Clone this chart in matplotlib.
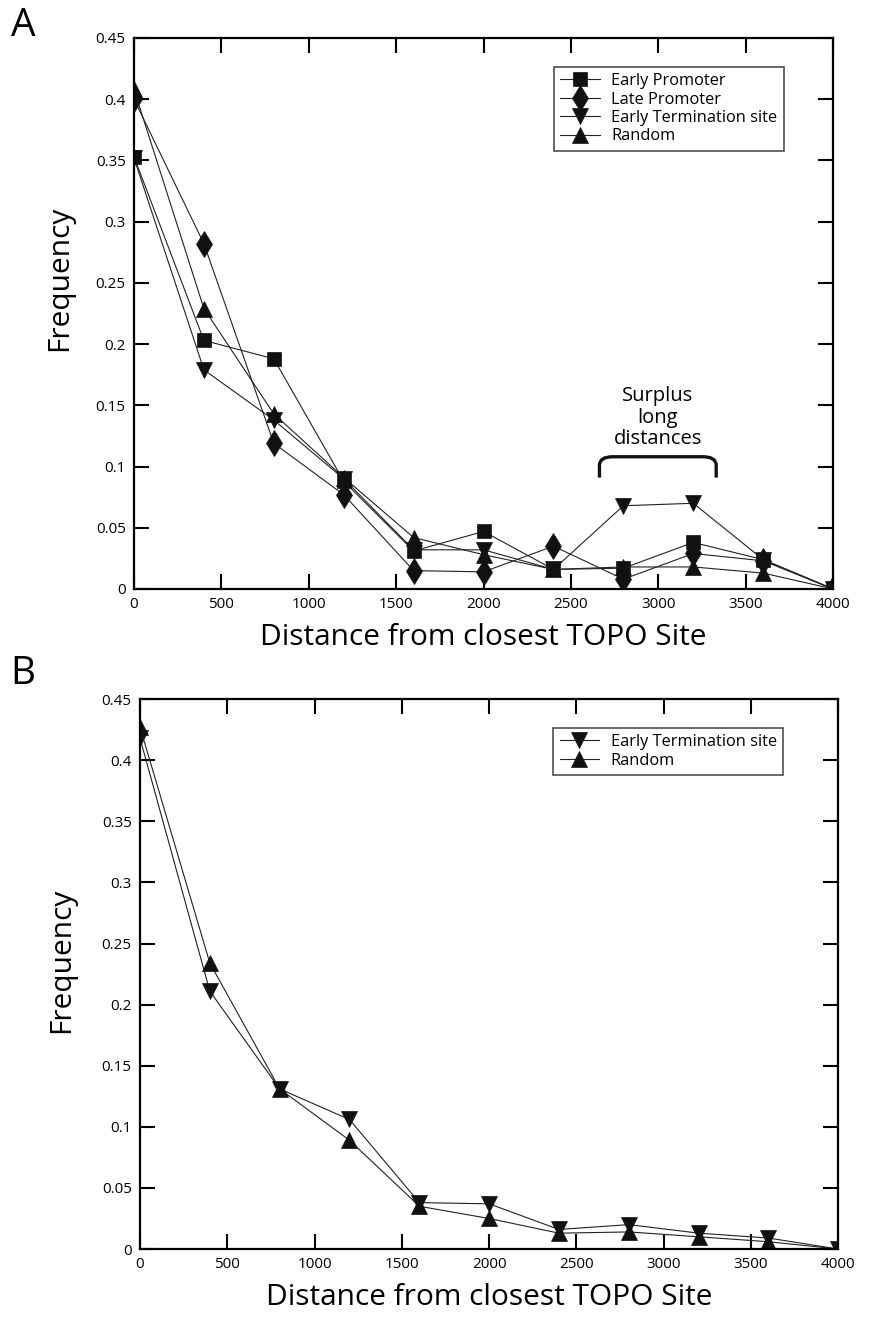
import matplotlib
matplotlib.use("Agg")
import matplotlib.pyplot as plt
from matplotlib.path import Path
import matplotlib.patches as patches
import numpy as np

plt.rcParams['font.family'] = ['Open Sans', 'DejaVu Sans']

# distances (bin positions)
distance = [0, 400, 800, 1200, 1600, 2000, 2400, 2800, 3200, 3600, 4000]

# panel A
early_promoter = [0.353, 0.203, 0.188, 0.088, 0.031, 0.047, 0.016, 0.017, 0.038, 0.024, 0.0]
late_promoter = [0.400, 0.282, 0.119, 0.077, 0.015, 0.014, 0.035, 0.008, 0.029, 0.023, 0.0]
early_term_a = [0.352, 0.179, 0.138, 0.090, 0.032, 0.032, 0.016, 0.068, 0.070, 0.024, 0.0]
random_a = [0.408, 0.229, 0.143, 0.091, 0.042, 0.028, 0.016, 0.018, 0.018, 0.013, 0.0]

# panel B
early_term_b = [0.418, 0.211, 0.131, 0.106, 0.038, 0.037, 0.016, 0.020, 0.013, 0.009, 0.0]
random_b = [0.427, 0.234, 0.131, 0.089, 0.035, 0.025, 0.013, 0.014, 0.010, 0.006, 0.0]

xticks = [0, 500, 1000, 1500, 2000, 2500, 3000, 3500, 4000]
yticks = [0, 0.05, 0.1, 0.15, 0.2, 0.25, 0.3, 0.35, 0.4, 0.45]
ytick_labels = ['0', '0.05', '0.1', '0.15', '0.2', '0.25', '0.3', '0.35', '0.4', '0.45']

fig = plt.figure(figsize=(8.85, 13.23), dpi=100)

styles = {
    'Early Promoter': dict(marker='s', markersize=10),
    'Late Promoter': dict(marker='d', markersize=13),
    'Early Termination site': dict(marker='v', markersize=12),
    'Random': dict(marker='^', markersize=12),
}


def setup_axes(ax, ylab_x, ylab_y):
    ax.set_xlim(0, 4000)
    ax.set_ylim(0, 0.45)
    ax.set_xticks(xticks)
    ax.set_yticks(yticks)
    ax.set_yticklabels(ytick_labels)
    ax.tick_params(direction='in', length=11, width=1.5, top=True, right=True,
                   labelsize=11, pad=6)
    for s in ax.spines.values():
        s.set_linewidth(1.6)
    ax.set_xlabel('Distance from closest TOPO Site', fontsize=21.5, labelpad=8)
    ax.set_ylabel('Frequency', fontsize=21.5)
    ax.yaxis.set_label_coords(ylab_x, ylab_y)


def draw(ax, y, name):
    ax.plot(distance, y, color='#222222', linewidth=0.8, markerfacecolor='#111111',
            markeredgecolor='#111111', markeredgewidth=0.5, label=name, **styles[name])


def add_legend(ax, anchor):
    leg = ax.legend(loc='upper right', bbox_to_anchor=anchor, fontsize=11.8,
                    frameon=True, fancybox=False, edgecolor='#222222', handlelength=2.4,
                    labelspacing=0.15, borderpad=0.4, handletextpad=0.7)
    leg.get_frame().set_linewidth(1.2)


axA = fig.add_axes([0.1514, 0.5548, 0.790, 0.4165])
setup_axes(axA, -0.086, 0.564)
draw(axA, early_promoter, 'Early Promoter')
draw(axA, late_promoter, 'Late Promoter')
draw(axA, early_term_a, 'Early Termination site')
draw(axA, random_a, 'Random')
add_legend(axA, (0.941, 0.963))

# bracket for surplus long distances
bracket = [(2663, 0.091), (2663, 0.101), (2663, 0.108), (2740, 0.108),
           (3254, 0.108), (3331, 0.108), (3331, 0.101), (3331, 0.091)]
codes = [Path.MOVETO, Path.LINETO, Path.CURVE3, Path.CURVE3,
         Path.LINETO, Path.CURVE3, Path.CURVE3, Path.LINETO]
axA.add_patch(patches.PathPatch(Path(bracket, codes), fill=False, lw=2.4,
                                 edgecolor='#111111', capstyle='butt'))
axA.text(2997, 0.140, 'Surplus\nlong\ndistances', ha='center', va='center',
         fontsize=14.5, linespacing=1.12)

axB = fig.add_axes([0.1582, 0.0559, 0.789, 0.4157])
setup_axes(axB, -0.092, 0.525)
draw(axB, early_term_b, 'Early Termination site')
draw(axB, random_b, 'Random')
add_legend(axB, (0.933, 0.963))

fig.text(0.012, 0.995, 'A', fontsize=28, va='top', ha='left')
fig.text(0.012, 0.505, 'B', fontsize=28, va='top', ha='left')

fig.savefig('out.png', dpi=100)
